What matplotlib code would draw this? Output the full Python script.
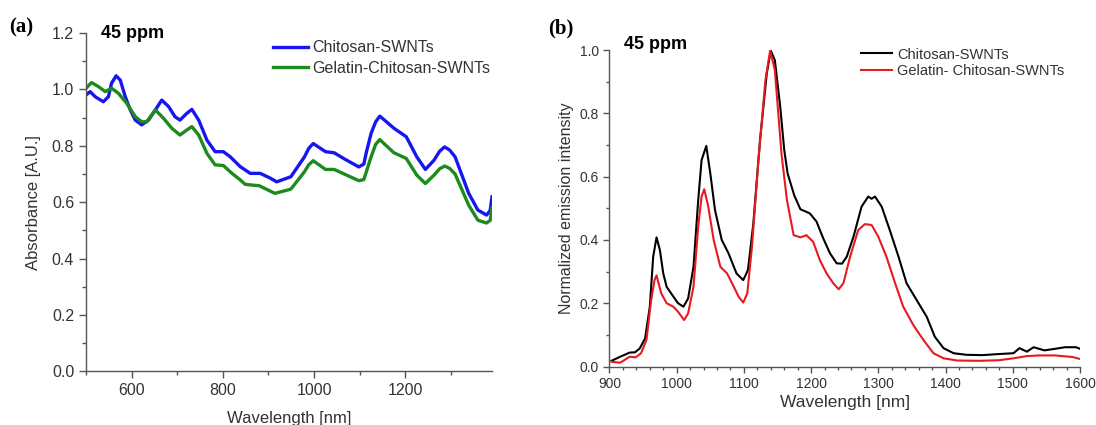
import matplotlib
matplotlib.use("Agg")
import matplotlib.pyplot as plt
from matplotlib.ticker import MultipleLocator

plt.rcParams['font.family'] = ['Liberation Sans', 'DejaVu Sans']

# ---- panel (a): absorbance ----
abs_wl_blue = [500, 509, 520, 538, 549, 556, 566, 575, 586, 597, 608, 622, 637, 652, 666, 681,
               695, 706, 721, 732, 747, 765, 783, 801, 816, 838, 860, 882, 904, 918, 949, 979,
               988, 998, 1010, 1025, 1044, 1071, 1098, 1109, 1115, 1125, 1135, 1144, 1155,
               1175, 1202, 1225, 1244, 1263, 1275, 1286, 1297, 1309, 1339, 1359, 1378, 1386,
               1390]
abs_blue = [0.980, 0.992, 0.974, 0.956, 0.974, 1.022, 1.048, 1.033, 0.974, 0.927, 0.891, 0.874,
            0.891, 0.927, 0.962, 0.939, 0.903, 0.891, 0.915, 0.929, 0.891, 0.820, 0.779, 0.779,
            0.761, 0.726, 0.702, 0.702, 0.685, 0.672, 0.690, 0.761, 0.790, 0.808, 0.795, 0.779,
            0.775, 0.749, 0.725, 0.735, 0.780, 0.844, 0.885, 0.905, 0.890, 0.862, 0.832, 0.761,
            0.716, 0.749, 0.780, 0.796, 0.785, 0.761, 0.631, 0.572, 0.554, 0.570, 0.619]

abs_wl_green = [500, 512, 527, 542, 556, 571, 589, 608, 622, 633, 652, 670, 688, 706, 721, 732,
                747, 765, 783, 801, 820, 838, 849, 880, 914, 949, 979, 988, 998, 1010, 1025,
                1044, 1071, 1098, 1109, 1115, 1125, 1135, 1144, 1155, 1175, 1202, 1225, 1244,
                1263, 1275, 1286, 1297, 1309, 1339, 1359, 1378, 1386, 1390]
abs_green = [1.004, 1.024, 1.010, 0.992, 1.004, 0.986, 0.951, 0.903, 0.885, 0.885, 0.927, 0.897,
             0.862, 0.838, 0.856, 0.868, 0.838, 0.773, 0.732, 0.730, 0.702, 0.679, 0.663, 0.658,
             0.631, 0.646, 0.708, 0.732, 0.747, 0.733, 0.716, 0.716, 0.696, 0.676, 0.680, 0.710,
             0.761, 0.805, 0.822, 0.805, 0.775, 0.755, 0.696, 0.666, 0.696, 0.718, 0.728, 0.720,
             0.700, 0.589, 0.536, 0.526, 0.535, 0.580]

# ---- panel (b): emission ----
em_wl_black = [903, 916, 930, 938, 945, 953, 960, 965, 970, 975, 980, 985, 995, 1002, 1010,
               1017, 1025, 1032, 1037, 1044, 1050, 1057, 1067, 1077, 1089, 1099, 1106, 1114,
               1124, 1134, 1140, 1146, 1154, 1160, 1165, 1175, 1184, 1198, 1208, 1218, 1228,
               1238, 1246, 1253, 1263, 1275, 1285, 1290, 1295, 1305, 1317, 1330, 1342, 1357,
               1372, 1384, 1397, 1412, 1431, 1455, 1476, 1501, 1510, 1521, 1531, 1547, 1563,
               1578, 1594, 1600]
em_black = [0.018, 0.031, 0.044, 0.045, 0.057, 0.089, 0.189, 0.347, 0.408, 0.368, 0.294, 0.252,
            0.221, 0.200, 0.189, 0.215, 0.315, 0.526, 0.652, 0.697, 0.610, 0.494, 0.400, 0.358,
            0.294, 0.273, 0.305, 0.452, 0.716, 0.926, 0.998, 0.968, 0.821, 0.684, 0.610, 0.540,
            0.497, 0.484, 0.458, 0.405, 0.358, 0.326, 0.325, 0.347, 0.410, 0.505, 0.537, 0.530,
            0.537, 0.505, 0.431, 0.347, 0.263, 0.210, 0.157, 0.094, 0.058, 0.042, 0.037, 0.036,
            0.039, 0.042, 0.058, 0.047, 0.061, 0.051, 0.056, 0.061, 0.061, 0.056]

em_wl_red = [903, 916, 930, 939, 947, 955, 962, 967, 970, 977, 985, 995, 1002, 1011, 1017, 1025,
             1032, 1037, 1041, 1047, 1055, 1065, 1075, 1085, 1092, 1099, 1105, 1112, 1122, 1132,
             1139, 1146, 1156, 1164, 1174, 1184, 1193, 1203, 1213, 1223, 1233, 1241, 1248, 1258,
             1270, 1280, 1290, 1300, 1312, 1325, 1337, 1352, 1367, 1382, 1397, 1417, 1451, 1480,
             1501, 1521, 1540, 1563, 1589, 1600]
em_red = [0.015, 0.012, 0.031, 0.029, 0.042, 0.084, 0.210, 0.273, 0.288, 0.231, 0.200, 0.189,
          0.173, 0.147, 0.168, 0.252, 0.442, 0.537, 0.560, 0.505, 0.400, 0.315, 0.294, 0.252,
          0.221, 0.202, 0.231, 0.379, 0.663, 0.905, 0.998, 0.937, 0.670, 0.526, 0.415, 0.408,
          0.415, 0.394, 0.336, 0.294, 0.263, 0.244, 0.263, 0.347, 0.431, 0.450, 0.447, 0.410,
          0.347, 0.263, 0.189, 0.131, 0.084, 0.042, 0.026, 0.019, 0.018, 0.020, 0.026, 0.033,
          0.035, 0.035, 0.030, 0.024]

tick_color = '#333333'
spine_color = '#555555'

fig = plt.figure(figsize=(10.96, 4.25), dpi=100)
ax1 = fig.add_axes([0.0785, 0.1264, 0.3704, 0.796])
ax2 = fig.add_axes([0.5561, 0.1376, 0.4293, 0.7447])


def style(ax, size, major_len, minor_len):
    for s in ['top', 'right']:
        ax.spines[s].set_visible(False)
    for s in ['left', 'bottom']:
        ax.spines[s].set_color(spine_color)
        ax.spines[s].set_linewidth(1.0)
    ax.tick_params(which='major', direction='out', length=major_len, width=1,
                   colors=spine_color, labelcolor=tick_color, labelsize=size)
    ax.tick_params(which='minor', direction='out', length=minor_len, width=1, colors=spine_color)


# (a)
ax1.plot(abs_wl_blue, abs_blue, color='#1616f0', lw=2.4, label='Chitosan-SWNTs')
ax1.plot(abs_wl_green, abs_green, color='#1c8a1c', lw=2.4, label='Gelatin-Chitosan-SWNTs')
ax1.set_xlim(500, 1390)
ax1.set_ylim(0, 1.2)
ax1.xaxis.set_major_locator(MultipleLocator(200))
ax1.xaxis.set_minor_locator(MultipleLocator(100))
ax1.yaxis.set_major_locator(MultipleLocator(0.2))
ax1.yaxis.set_minor_locator(MultipleLocator(0.1))
ax1.yaxis.set_major_formatter(plt.FormatStrFormatter('%.1f'))
style(ax1, 11.5, 5, 3)
ax1.set_xlabel('Wavelength [nm]', fontsize=12, color=tick_color, labelpad=9)
ax1.set_ylabel('Absorbance [A.U.]', fontsize=12, color=tick_color, labelpad=8)
ax1.legend(loc='upper left', bbox_to_anchor=(0.44, 1.002), frameon=False, fontsize=11.5,
           borderpad=0, handlelength=2.2, handletextpad=0.28, labelspacing=0.35,
           labelcolor=tick_color)
ax1.text(0.036, 0.998, '45 ppm', transform=ax1.transAxes, fontsize=13, fontweight='bold',
         va='center', ha='left')
fig.text(0.008, 0.936, '(a)', family='Liberation Serif', fontweight='bold', fontsize=15,
         va='center', ha='left')

# (b)
ax2.plot(em_wl_black, em_black, color='black', lw=1.5, label='Chitosan-SWNTs')
ax2.plot(em_wl_red, em_red, color='#e8191f', lw=1.5, label='Gelatin- Chitosan-SWNTs')
ax2.set_xlim(900, 1600)
ax2.set_ylim(0, 1.0)
ax2.xaxis.set_major_locator(MultipleLocator(100))
ax2.xaxis.set_minor_locator(MultipleLocator(20))
ax2.yaxis.set_major_locator(MultipleLocator(0.2))
ax2.yaxis.set_minor_locator(MultipleLocator(0.1))
ax2.yaxis.set_major_formatter(plt.FormatStrFormatter('%.1f'))
style(ax2, 10, 4, 2.5)
ax2.set_xlabel('Wavelength [nm]', fontsize=12.5, color=tick_color, labelpad=3)
ax2.set_ylabel('Normalized emission intensity', fontsize=11.5, color=tick_color, labelpad=4)
ax2.legend(loc='upper left', bbox_to_anchor=(0.52, 1.031), frameon=False, fontsize=10.5,
           borderpad=0, handlelength=2.1, handletextpad=0.35, labelspacing=0.15,
           labelcolor=tick_color)
ax2.text(0.031, 1.019, '45 ppm', transform=ax2.transAxes, fontsize=13, fontweight='bold',
         va='center', ha='left')
fig.text(0.5, 0.933, '(b)', family='Liberation Serif', fontweight='bold', fontsize=15,
         va='center', ha='left')

fig.savefig('out.png', dpi=100)
